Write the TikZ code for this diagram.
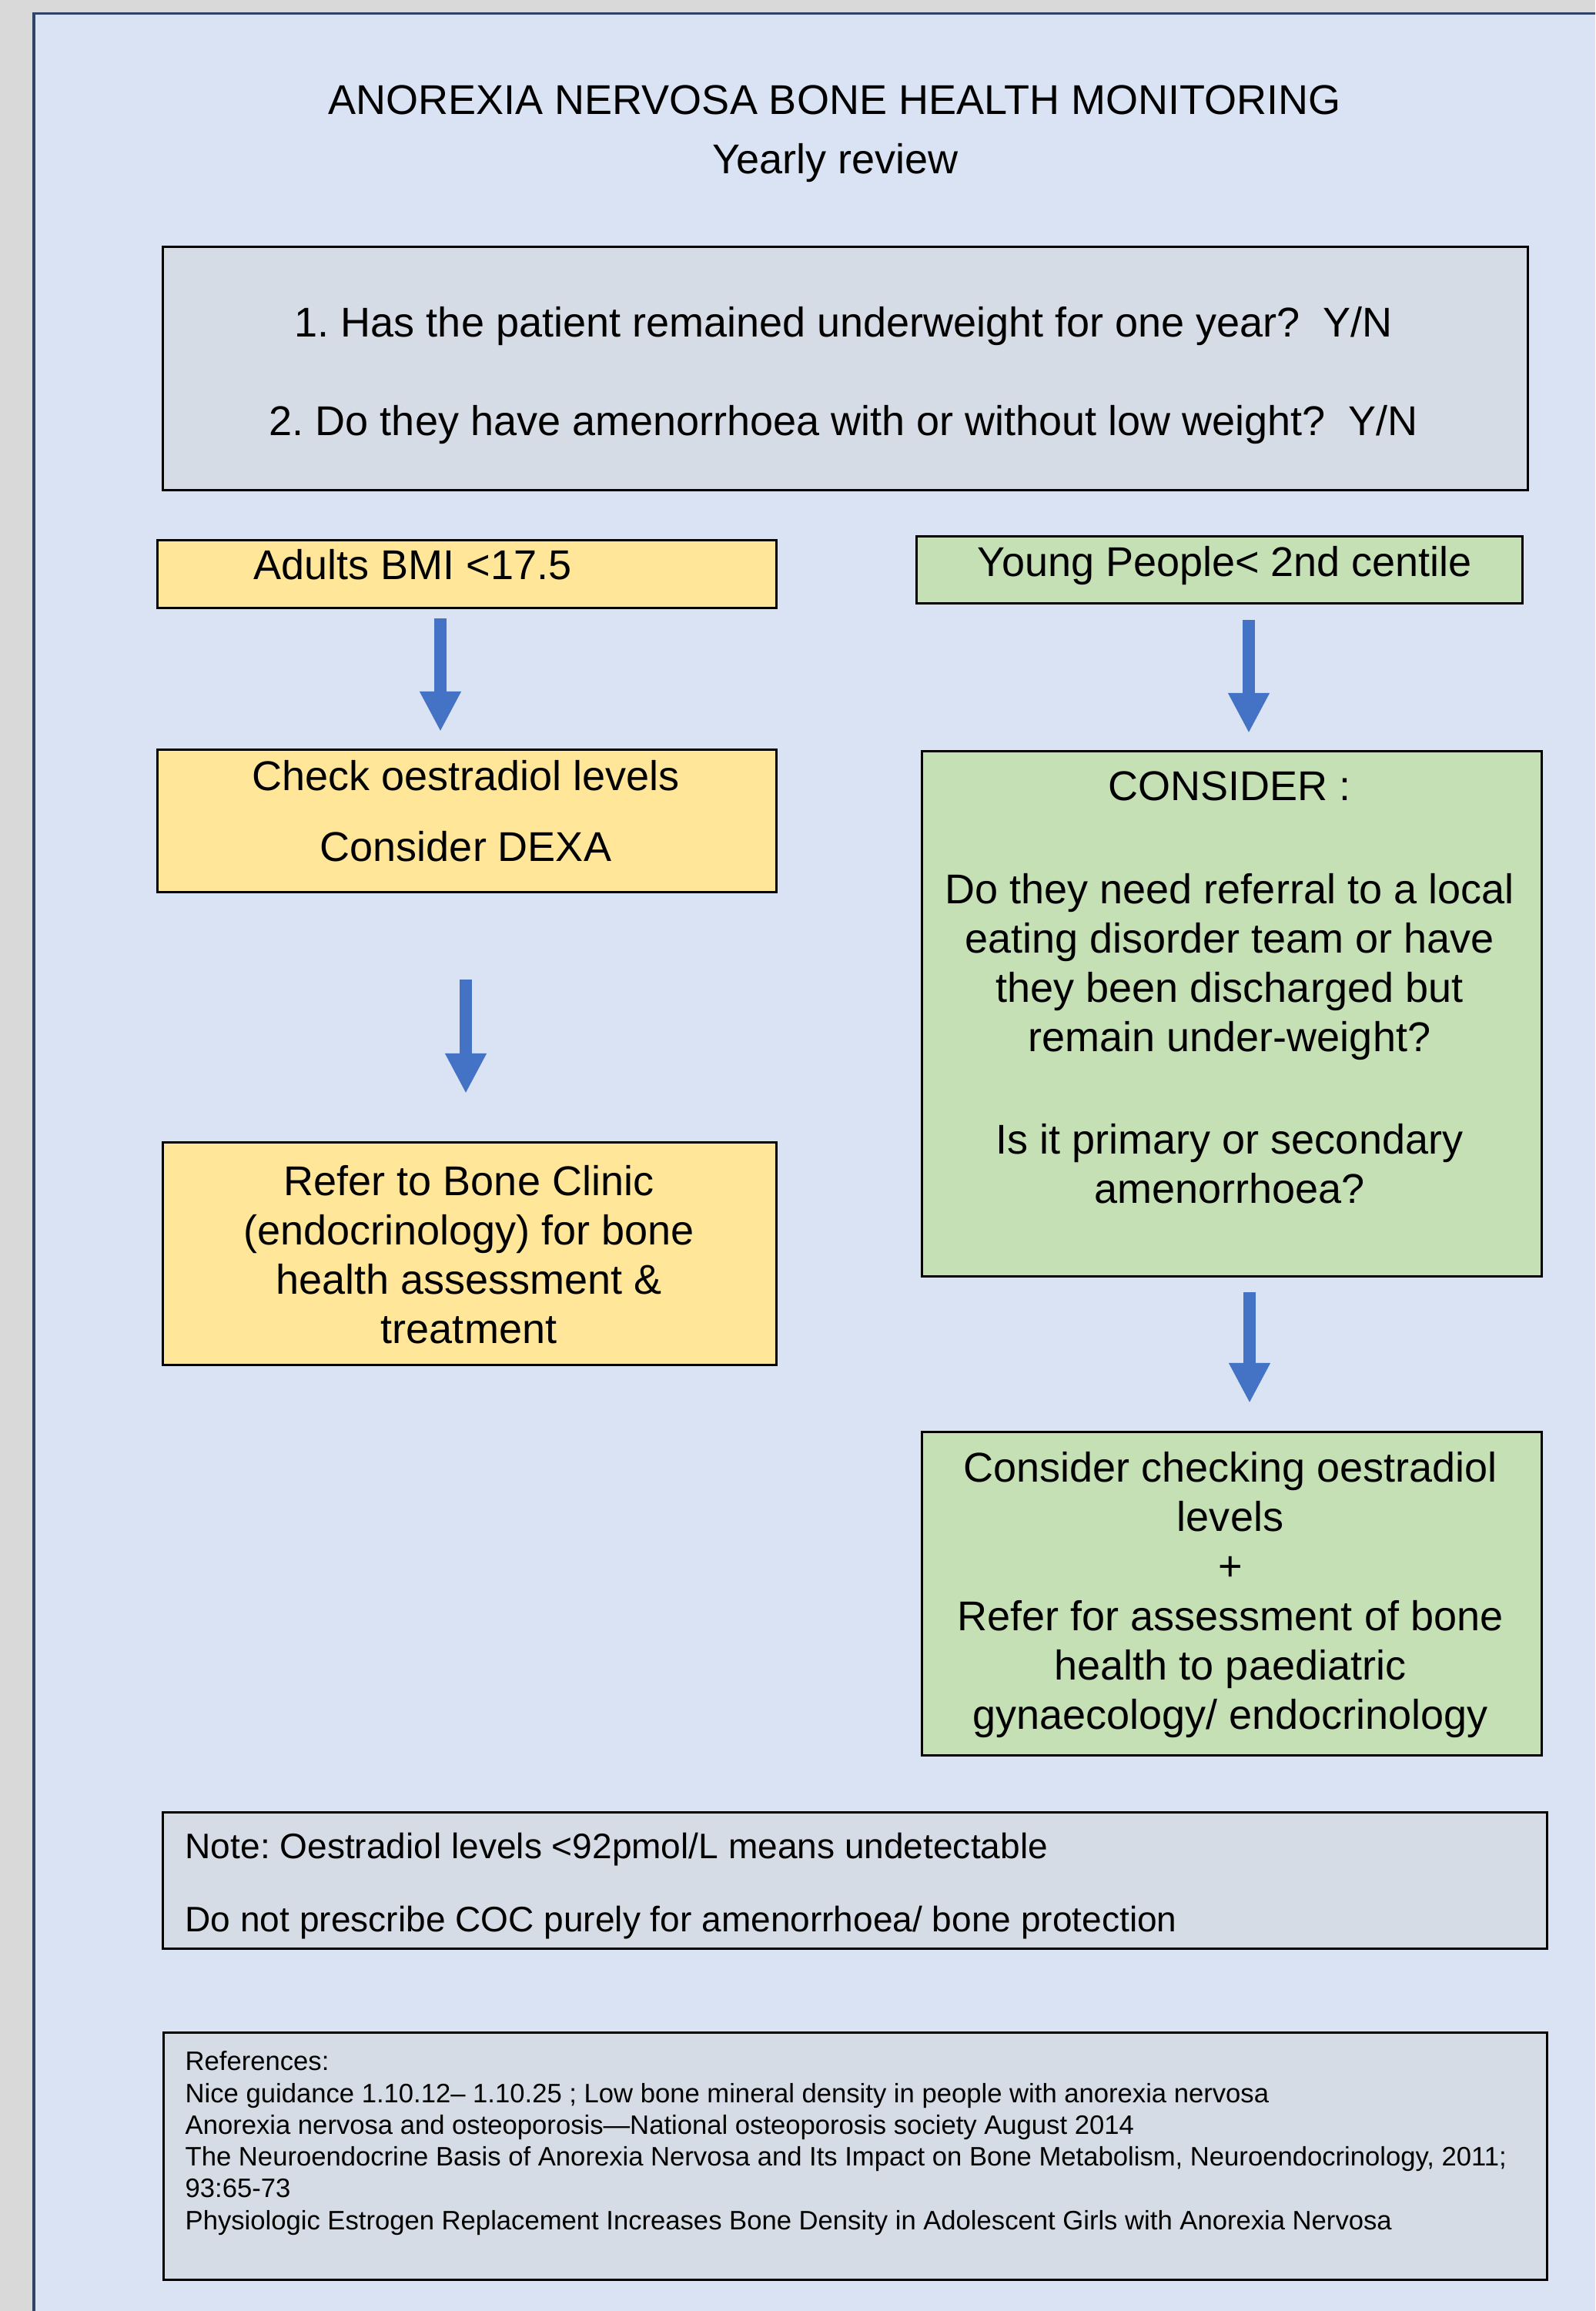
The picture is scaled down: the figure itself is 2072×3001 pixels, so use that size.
\documentclass[tikz,border=0pt]{standalone}
\usepackage{fontspec}
\setmainfont{Liberation Sans}
\usetikzlibrary{arrows.meta}
\definecolor{outerbg}{HTML}{D9D9D9}
\definecolor{panelbg}{HTML}{DAE3F3}
\definecolor{panelln}{HTML}{2F4466}
\definecolor{greybox}{HTML}{D6DCE5}
\definecolor{yellowbox}{HTML}{FFE699}
\definecolor{greenbox}{HTML}{C5E0B4}
\definecolor{arrowblue}{HTML}{4472C4}
\newcommand\mybig{\fontsize{15.36pt}{18.21pt}\selectfont\frenchspacing}
\newcommand\mynote{\fontsize{13.1pt}{15.7pt}\selectfont\frenchspacing}
\newcommand\myref{\fontsize{9.85pt}{11.72pt}\selectfont\frenchspacing}
\begin{document}
\frenchspacing
\begin{tikzpicture}[x=0.01cm,y=-0.01cm,
  box/.style={draw=black, line width=0.03cm, inner sep=0pt, rectangle},
  gbox/.style={box, fill=greybox},
  ybox/.style={box, fill=yellowbox},
  grbox/.style={box, fill=greenbox},
  txt/.style={inner sep=0pt, font=\mybig, align=center, text=black},
  flowarrow/.style={draw=arrowblue, line width=0.165cm, -{Triangle[width=0.5cm,length=0.52cm]}}
]
\useasboundingbox (0,0) rectangle (2072,3001);
\fill[outerbg] (0,0) rectangle (2072,3001);
\fill[panelbg] (44,18) rectangle (2072,3001);
\draw[panelln, line width=0.03cm] (44,3001) -- (44,18) -- (2072,18);

\node[txt] (title) at (1084,130) {ANOREXIA NERVOSA BONE HEALTH MONITORING};
\node[txt] (sub) at (1085,212) {Yearly review};

\node[gbox, minimum width=17.72cm, minimum height=3.15cm] (qbox) at (1098,478.5) {};
\node[txt] (qtext) at (1096,488) {1. Has the patient remained underweight for one year?\ \ Y/N\\[0.64cm]2. Do they have amenorrhoea with or without low weight?\ \ Y/N};

\node[ybox, minimum width=8.03cm, minimum height=0.87cm] (adults) at (606.5,745.5) {};
\node[txt, anchor=west] (adultst) at (329,733) {Adults BMI <17.5};
\node[grbox, minimum width=7.86cm, minimum height=0.86cm] (young) at (1584,740) {};
\node[txt] (youngt) at (1591,735) {Young People< 2nd centile};

\node[ybox, minimum width=8.03cm, minimum height=1.84cm] (check) at (606.5,1066) {};
\node[txt] (checkt) at (605,1053) {Check oestradiol levels\\[0.28cm]Consider DEXA};

\node[ybox, minimum width=7.96cm, minimum height=2.88cm] (refer) at (610,1628) {};
\node[txt] (refert) at (609,1629) {Refer to Bone Clinic\\(endocrinology) for bone\\health assessment \&\\treatment};

\node[grbox, minimum width=8.04cm, minimum height=6.81cm] (consider) at (1600,1316.5) {};
\node[txt] (considert) at (1597,1282.5) {CONSIDER :\\[0.69cm]Do they need referral to a local\\eating disorder team or have\\they been discharged but\\remain under-weight?\\[0.69cm]Is it primary or secondary\\amenorrhoea?};

\node[grbox, minimum width=8.04cm, minimum height=4.19cm] (final) at (1600,2069.5) {};
\node[txt] (finalt) at (1598,2071) {Consider checking oestradiol\\levels\\+\\Refer for assessment of bone\\health to paediatric\\gynaecology/ endocrinology};

\node[gbox, minimum width=17.97cm, minimum height=1.76cm] (note) at (1110.5,2442) {};
\node[txt, font=\mynote, align=left, anchor=west] (notet) at (240,2449) {Note: Oestradiol levels <92pmol/L means undetectable\\[0.39cm]Do not prescribe COC purely for amenorrhoea/ bone protection};

\node[gbox, minimum width=17.96cm, minimum height=3.20cm] (refs) at (1111,2800) {};
\node[txt, font=\myref, align=left, anchor=west] (refst) at (240,2783) {References:\\Nice guidance 1.10.12– 1.10.25 ; Low bone mineral density in people with anorexia nervosa\\Anorexia nervosa and osteoporosis—National osteoporosis society August 2014\\The Neuroendocrine Basis of Anorexia Nervosa and Its Impact on Bone Metabolism, Neuroendocrinology, 2011;\\93:65-73\\Physiologic Estrogen Replacement Increases Bone Density in Adolescent Girls with Anorexia Nervosa};

\coordinate (a1s) at (572,803);  \coordinate (a1e) at (572,950);
\coordinate (a2s) at (605,1272); \coordinate (a2e) at (605,1420);
\coordinate (a3s) at (1622,805); \coordinate (a3e) at (1622,952);
\coordinate (a4s) at (1623,1678); \coordinate (a4e) at (1623,1822);
\draw[flowarrow] (a1s) -- (a1e);
\draw[flowarrow] (a2s) -- (a2e);
\draw[flowarrow] (a3s) -- (a3e);
\draw[flowarrow] (a4s) -- (a4e);
\end{tikzpicture}
\end{document}
